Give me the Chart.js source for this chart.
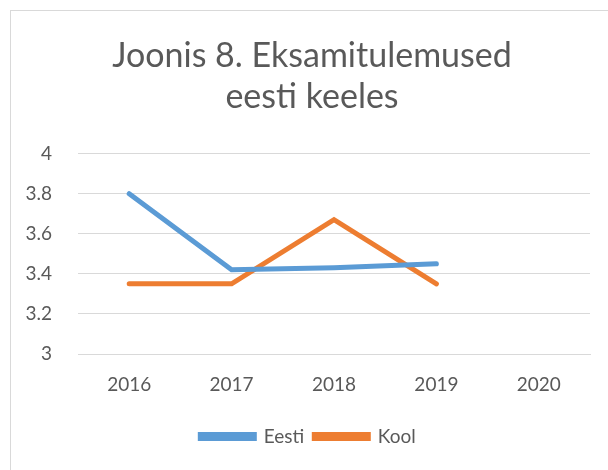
<!DOCTYPE html>
<html>
<head>
<meta charset="utf-8">
<script src="https://cdn.jsdelivr.net/npm/chart.js@4/dist/chart.umd.min.js"></script>
<style>
  html, body { margin: 0; padding: 0; background: #fff; }
  #wrap { width: 608px; height: 470px; }
</style>
</head>
<body>
<div id="wrap"><canvas id="chart" width="608" height="470"></canvas></div>
<script>
const years = ["2016", "2017", "2018", "2019", "2020"];
const eesti = [3.8, 3.42, 3.43, 3.45, null];
const kool = [3.35, 3.35, 3.67, 3.35, null];
const titleLines = ["Joonis 8. Eksamitulemused", "eesti keeles"];

const textColor = "#595959";
const fontFamily = "Lato, 'Open Sans', sans-serif";

// light frame round the chart like in the Excel export
const framePlugin = {
  id: "frame",
  afterLayout(chart) {
    // Excel centres title and legend on the whole frame, not the padded box
    if (chart.titleBlock) { chart.titleBlock.left += 12; chart.titleBlock.right += 12; }
    if (chart.legend) { chart.legend.left += 8; chart.legend.right += 8; }
  },
  beforeDraw(chart) {
    const ctx = chart.ctx;
    ctx.save();
    ctx.fillStyle = "#fff";
    ctx.fillRect(0, 0, chart.width, chart.height);
    ctx.strokeStyle = "#d9d9d9";
    ctx.lineWidth = 1;
    ctx.strokeRect(10.5, 10.5, 700, 600);
    ctx.restore();
  }
};

new Chart(document.getElementById("chart"), {
  type: "line",
  data: {
    labels: years,
    datasets: [
      {
        label: "Eesti",
        data: eesti,
        borderColor: "#5b9bd5",
        backgroundColor: "#5b9bd5",
        borderWidth: 5,
        borderCapStyle: "round",
        pointRadius: 0,
        tension: 0
      },
      {
        label: "Kool",
        data: kool,
        borderColor: "#ed7d31",
        backgroundColor: "#ed7d31",
        borderWidth: 5,
        borderCapStyle: "round",
        pointRadius: 0,
        tension: 0
      }
    ]
  },
  plugins: [framePlugin],
  options: {
    responsive: false,
    animation: false,
    layout: { padding: { left: 10, right: 18, top: 10, bottom: 14 } },
    plugins: {
      title: {
        display: true,
        text: titleLines,
        color: textColor,
        font: { family: fontFamily, size: 34, weight: "normal", lineHeight: 1.2 },
        padding: { top: 26, bottom: 36 }
      },
      legend: {
        position: "bottom",
        labels: {
          color: textColor,
          font: { family: fontFamily, size: 19 },
          boxWidth: 54,
          boxHeight: 4,
          padding: 10
        }
      },
      tooltip: { enabled: false }
    },
    scales: {
      x: {
        offset: true,
        grid: { display: false, drawTicks: false },
        border: { color: "#d9d9d9" },
        ticks: { color: textColor, font: { family: fontFamily, size: 19 }, padding: 19 },
        afterFit(scale) { scale.height = 63; }
      },
      y: {
        min: 3,
        max: 4,
        grid: { color: "#d9d9d9", drawTicks: false },
        border: { display: false },
        ticks: {
          stepSize: 0.2,
          color: textColor,
          font: { family: fontFamily, size: 19 },
          padding: 26,
          callback: v => String(Math.round(v * 10) / 10)
        },
        afterFit(scale) { scale.width = 68; }
      }
    }
  }
});
</script>
</body>
</html>
